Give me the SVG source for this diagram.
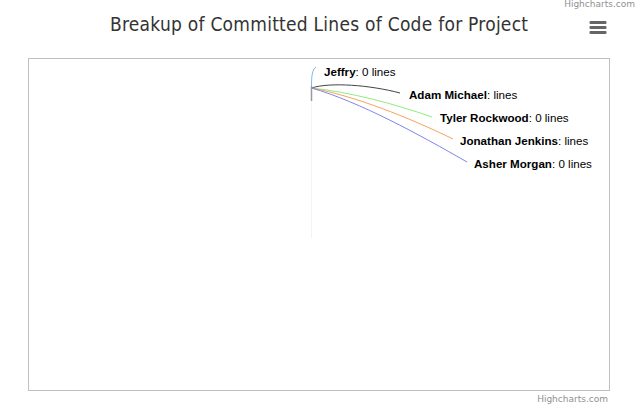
<svg xmlns="http://www.w3.org/2000/svg" width="640" height="419" viewBox="0 0 640 419">
<style>
.title{font-family:"DejaVu Sans Condensed","DejaVu Sans",sans-serif;font-size:19px;fill:#333333}
.lbl{font-family:"Liberation Sans",Arial,sans-serif;font-size:11.6px;fill:#000000}
.lbl .n{font-weight:bold}
.credit{font-family:"DejaVu Sans",sans-serif;font-size:9px;fill:#909090}
.conn{fill:none;stroke-width:1}
</style>
<rect x="0" y="0" width="640" height="419" fill="#ffffff"/>
<text class="credit" x="635" y="7" text-anchor="end">Highcharts.com</text>
<text class="title" x="319" y="31" text-anchor="middle" textLength="418" lengthAdjust="spacing">Breakup of Committed Lines of Code for Project</text>
<g id="menu" fill="#666666">
<rect x="589.5" y="21" width="17" height="3" rx="1"/>
<rect x="589.5" y="26" width="17" height="3" rx="1"/>
<rect x="589.5" y="31" width="17" height="3" rx="1"/>
</g>
<rect id="plot" x="28.5" y="58.5" width="581" height="332" fill="none" stroke="#c0c0c0" stroke-width="1"/>
<g id="pie">
<line x1="311.5" y1="100" x2="311.5" y2="238" stroke="#f3f3f3" stroke-width="1"/>
<line x1="311.5" y1="86" x2="311.5" y2="101" stroke="#9a9a9a" stroke-width="1.5"/>
</g>
<g id="connectors">
<path class="conn" stroke="#7cb5ec" d="M311.5,87 C311.5,76 312,70 316,67"/>
<path class="conn" stroke="#434348" d="M311.5,88 C330,82 370,85 400,93"/>
<path class="conn" stroke="#90ed7d" d="M311.5,88 C350,92 395,104 432,117"/>
<path class="conn" stroke="#f7a35c" d="M311.5,88 C355,96 410,118 453,139"/>
<path class="conn" stroke="#8085e9" d="M311.5,88 C360,102 420,135 467,162"/>
</g>
<g id="label-jeffry"><text class="lbl" x="324" y="76"><tspan class="n">Jeffry</tspan>: 0 lines</text></g>
<g id="label-adam"><text class="lbl" x="409" y="99"><tspan class="n">Adam Michael</tspan>: lines</text></g>
<g id="label-tyler"><text class="lbl" x="440" y="122"><tspan class="n">Tyler Rockwood</tspan>: 0 lines</text></g>
<g id="label-jonathan"><text class="lbl" x="460" y="145"><tspan class="n">Jonathan Jenkins</tspan>: lines</text></g>
<g id="label-asher"><text class="lbl" x="474" y="168"><tspan class="n">Asher Morgan</tspan>: 0 lines</text></g>
<text class="credit" x="608" y="402" text-anchor="end">Highcharts.com</text>
</svg>
